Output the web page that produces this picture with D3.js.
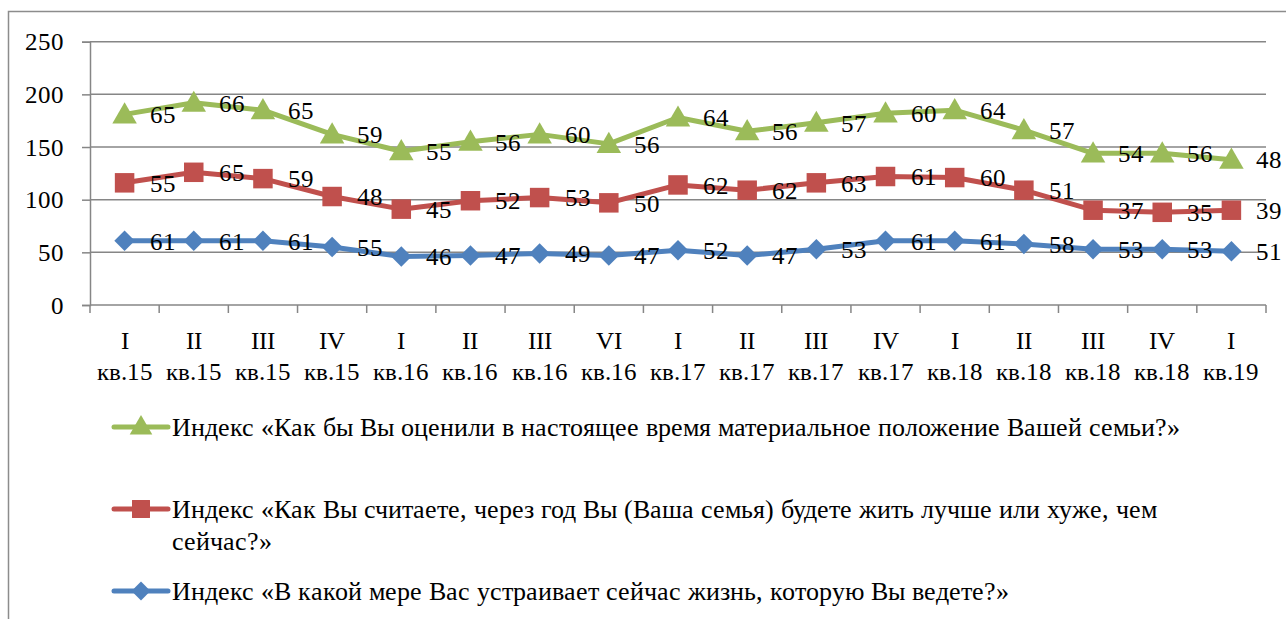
<!DOCTYPE html>
<html><head><meta charset="utf-8">
<script src="https://cdn.jsdelivr.net/npm/d3@7"></script>
<style>
@font-face{font-family:"ChartSerif";src:local("Liberation Serif"),local("LiberationSerif"),local("LiberationSerif-Regular"),local("Tinos"),local("Times New Roman");}
html,body{margin:0;padding:0;background:#fff;}
#c text{font-family:"ChartSerif","Liberation Serif","Times New Roman",serif;}
</style></head>
<body>
<div id="wrap"><svg id="c" width="1286" height="619"></svg></div>
<script>
const quarters = ["I","II","III","IV","I","II","III","VI","I","II","III","IV","I","II","III","IV","I"];
const years = ["кв.15","кв.15","кв.15","кв.15","кв.16","кв.16","кв.16","кв.16","кв.17","кв.17","кв.17","кв.17","кв.18","кв.18","кв.18","кв.18","кв.19"];
const blueVals = [61,61,61,55,46,47,49,47,52,47,53,61,61,58,53,53,51];
const redVals = [55,65,59,48,45,52,53,50,62,62,63,61,60,51,37,35,39];
const greenVals = [65,66,65,59,55,56,60,56,64,56,57,60,64,57,54,56,48];
const yTicks = [0,50,100,150,200,250];
const seriesNames = [
  "Индекс «Как бы Вы оценили в настоящее время материальное положение Вашей семьи?»",
  "Индекс «Как Вы считаете, через год Вы (Ваша семья) будете жить лучше или хуже, чем|сейчас?»",
  "Индекс «В какой мере Вас устраивает сейчас жизнь, которую Вы ведете?»"
];

(function(){
const svg = d3.select("#c");
const FS = 25, LFS = 26;
const FF = "ChartSerif, 'Liberation Serif', 'Times New Roman', serif";
const pL = 90, pR = 1266, pT = 41.7, pB = 305;
const cats = d3.range(quarters.length);
const x = d3.scaleBand().domain(cats).range([pL, pR]);
const y = d3.scaleLinear().domain([0, 250]).range([pB, pT]);

svg.append("path").attr("d", `M8.5,619 V11.5 H1286`).attr("fill","none").attr("stroke","#8c8c8c").attr("stroke-width",1.5);

const yAxis = d3.axisLeft(y).tickValues(yTicks).tickSize(8).tickPadding(18);
const gy = svg.append("g").attr("transform",`translate(${pL},0)`).call(yAxis);
gy.attr("font-family",FF).attr("font-size",FS);
gy.select(".domain").attr("stroke","#868686").attr("stroke-width",1.5);
gy.selectAll(".tick line").attr("stroke","#868686").attr("stroke-width",1.5);
gy.selectAll(".tick text").attr("font-size",FS).attr("fill","#000").attr("font-family",FF);
svg.append("g").selectAll("line").data(yTicks.filter(d=>d>0)).join("line")
  .attr("x1",pL).attr("x2",pR).attr("y1",d=>y(d)).attr("y2",d=>y(d))
  .attr("stroke","#868686").attr("stroke-width",1.5);

svg.append("line").attr("x1",pL).attr("x2",pR).attr("y1",pB).attr("y2",pB).attr("stroke","#868686").attr("stroke-width",1.5);
const bounds = d3.range(quarters.length+1).map(i => pL + i*x.step());
svg.append("g").selectAll("line").data(bounds).join("line")
  .attr("x1",d=>d).attr("x2",d=>d).attr("y1",pB).attr("y2",pB+8)
  .attr("stroke","#868686").attr("stroke-width",1.5);
const xl = svg.append("g").attr("text-anchor","middle");
xl.selectAll("text.q").data(cats).join("text").attr("class","q")
  .attr("x",d=>x(d)+x.bandwidth()/2).attr("y",340).attr("dy","0.35em")
  .attr("font-size",FS).attr("font-family",FF).text(d=>quarters[d]);
xl.selectAll("text.yr").data(cats).join("text").attr("class","yr")
  .attr("x",d=>x(d)+x.bandwidth()/2).attr("y",371).attr("dy","0.35em")
  .attr("font-size",FS).attr("font-family",FF).text(d=>years[d]);

const sBlue = blueVals.slice();
const sRed = redVals.map((v,i)=>v+sBlue[i]);
const sGreen = greenVals.map((v,i)=>v+sRed[i]);
const series = [
  {stack:sGreen, labels:greenVals, color:"#9BBB59", sym:d3.symbolTriangle, size:260, rot:0, dy:2},
  {stack:sRed, labels:redVals, color:"#C0504D", sym:d3.symbolSquare, size:380, rot:0, dy:0},
  {stack:sBlue, labels:blueVals, color:"#4F81BD", sym:d3.symbolSquare, size:210, rot:45, dy:0}
];
const cx = i => x(i)+x.bandwidth()/2;
const line = d3.line().x((d,i)=>cx(i)).y(d=>y(d));

series.slice().reverse().forEach(s=>{
  svg.append("path").attr("d", line(s.stack)).attr("fill","none").attr("stroke",s.color)
    .attr("stroke-width",5).attr("stroke-linejoin","round");
});
series.forEach(s=>{
  const g = svg.append("g");
  g.selectAll("path").data(s.stack).join("path")
    .attr("transform",(d,i)=>`translate(${cx(i)},${y(d)+s.dy}) rotate(${s.rot})`)
    .attr("d", d3.symbol(s.sym, s.size)()).attr("fill",s.color);
  g.selectAll("text").data(s.stack).join("text")
    .attr("x",(d,i)=>cx(i)+25).attr("y",d=>y(d)).attr("dy","0.35em")
    .attr("font-size",FS).attr("font-family",FF).attr("fill","#000").text((d,i)=>s.labels[i]);
});

const legY = [427, 509, 591];
series.forEach((s,k)=>{
  const g = svg.append("g");
  g.append("line").attr("x1",114).attr("x2",168).attr("y1",legY[k]).attr("y2",legY[k])
    .attr("stroke",s.color).attr("stroke-width",5).attr("stroke-linecap","round");
  g.append("path").attr("transform",`translate(141,${legY[k]+(s.dy?1:0)}) rotate(${s.rot})`)
    .attr("d", d3.symbol(s.sym, s.size*0.85)()).attr("fill",s.color);
  const parts = seriesNames[k].split("|");
  parts.forEach((p,j)=>{
    g.append("text").attr("font-size",LFS).attr("font-family",FF).attr("fill","#000")
      .attr("x",172).attr("y",legY[k]+j*32).attr("dy","0.35em").text(p);
  });
});
})();
</script>
</body></html>
